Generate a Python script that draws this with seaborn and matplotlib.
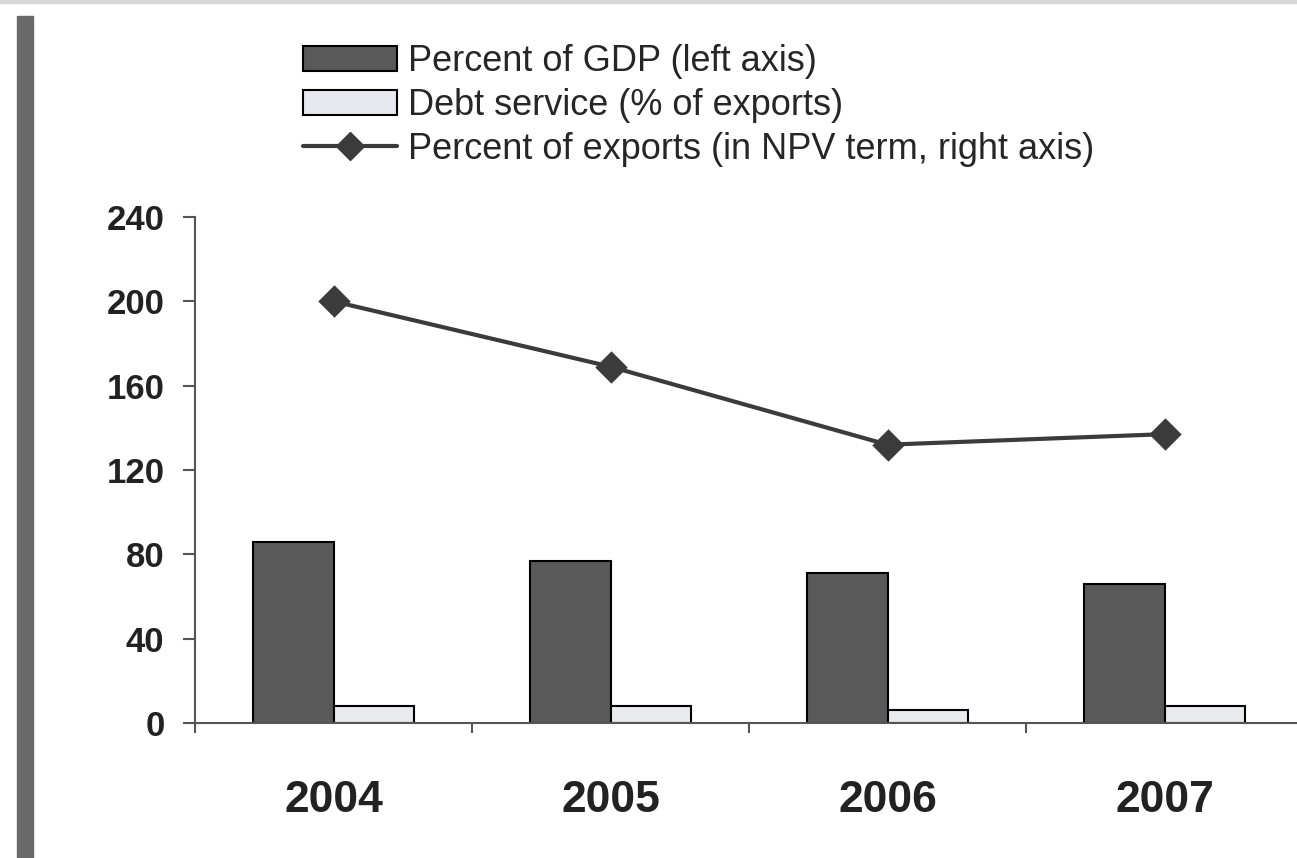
import pandas as pd
import numpy as np
import matplotlib.pyplot as plt
import seaborn as sns
from matplotlib.patches import Patch, Rectangle
from matplotlib.lines import Line2D

# Data
years = ["2004", "2005", "2006", "2007"]
gdp_pct = [86, 77, 71, 66]
debt_service = [8, 8, 6, 8]
npv_exports = [200, 169, 132, 137]

series_names = [
    "Percent of GDP (left axis)",
    "Debt service (% of exports)",
    "Percent of exports (in NPV term, right axis)",
]
y_ticks = [0, 40, 80, 120, 160, 200, 240]

dark = "#595959"
light = "#e7e9ef"
line_col = "#3b3b3b"

sns.set_style("white")
plt.rcParams["font.family"] = ["Liberation Sans", "DejaVu Sans"]

bars = pd.DataFrame({
    "year": years * 2,
    "series": [series_names[0]] * len(years) + [series_names[1]] * len(years),
    "value": gdp_pct + debt_service,
})

fig = plt.figure(figsize=(12.97, 8.58), dpi=100)
ax = fig.add_axes([195 / 1297, 1 - 723 / 858, (1303 - 195) / 1297, (723 - 217) / 858])

sns.barplot(data=bars, x="year", y="value", hue="series", palette=[dark, light],
            width=0.58, gap=0, edgecolor="black", linewidth=1.5, legend=False,
            ax=ax)
sns.pointplot(x=years, y=npv_exports, color=line_col, markers="D",
              markersize=14, linewidth=3, errorbar=None, ax=ax)

ax.set_xlim(-0.5, 3.5)
ax.set_ylim(0, 240)
ax.set_yticks(y_ticks)
ax.set_xlabel("")
ax.set_ylabel("")
for side in ["top", "right"]:
    ax.spines[side].set_visible(False)
for side in ["left", "bottom"]:
    ax.spines[side].set_color("#555555")
    ax.spines[side].set_linewidth(1.5)

ax.tick_params(axis="y", left=True, direction="out", length=9, width=1.5,
               color="#555555", pad=13, labelsize=25)
ax.set_xticks(np.arange(-0.5, 4, 1), minor=True)
ax.tick_params(axis="x", which="minor", bottom=True, direction="out", length=7,
               width=1.5, color="#555555")
ax.tick_params(axis="x", which="major", bottom=True, length=0, pad=41,
               labelsize=32)
for lab in ax.get_xticklabels() + ax.get_yticklabels():
    lab.set_fontweight("bold")
    lab.set_color("#222222")

handles = [
    Patch(facecolor=dark, edgecolor="black", linewidth=1.5),
    Patch(facecolor=light, edgecolor="black", linewidth=1.5),
    Line2D([], [], color=line_col, linewidth=3, marker="D", markersize=14),
]
fig.legend(handles, series_names, loc="upper left",
           bbox_to_anchor=(303 / 1297, 1 - 44 / 858), frameon=False,
           fontsize=26, handlelength=2.6, handleheight=0.7, handletextpad=0.3,
           labelspacing=0.25, borderaxespad=0, borderpad=0)

# scan border decoration
fig.add_artist(Rectangle((17 / 1297, 0), 16 / 1297, 1 - 16 / 858,
                         transform=fig.transFigure, color="#6a6a6a"))
fig.add_artist(Rectangle((0, 1 - 3 / 858), 1, 3 / 858,
                         transform=fig.transFigure, color="#d8d8d8"))

fig.savefig("out.png", dpi=100)
